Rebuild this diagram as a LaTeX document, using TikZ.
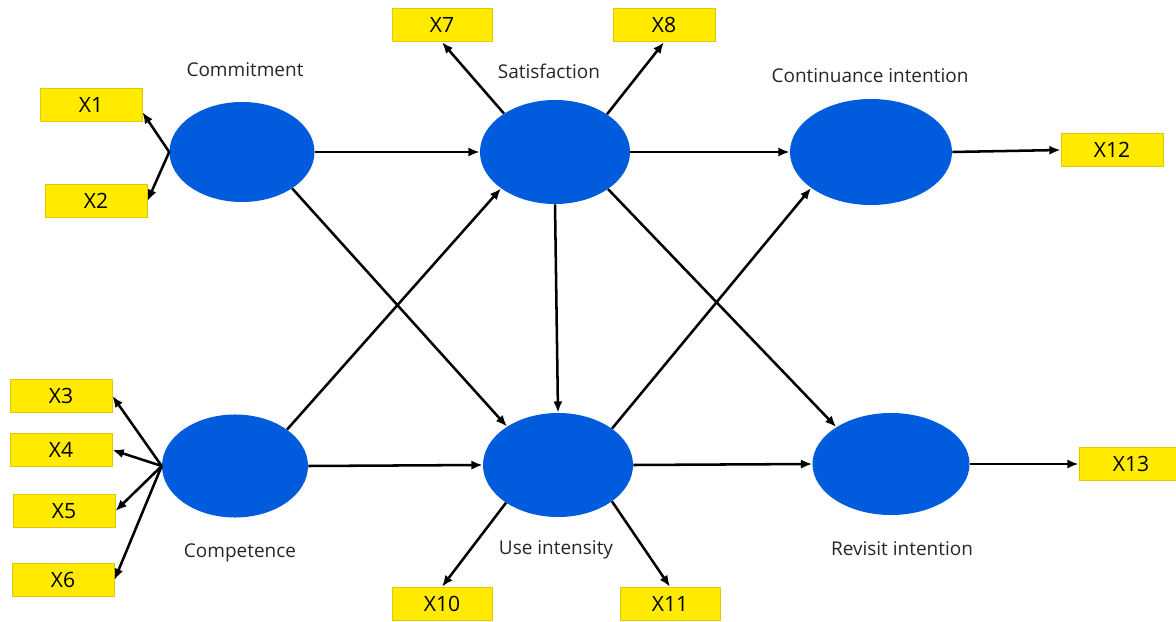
\documentclass[tikz,border=0pt]{standalone}
\usepackage{fontspec}
\setmainfont{Open Sans}
\usetikzlibrary{arrows.meta,shapes.geometric}
\definecolor{lvblue}{RGB}{0,92,220}
\definecolor{ind}{RGB}{255,234,0}
\definecolor{indborder}{RGB}{225,200,0}
\tikzset{
  latent/.style={ellipse, fill=lvblue, draw=none, inner sep=0pt},
  indbox/.style={rectangle, fill=ind, draw=indborder, line width=0.6pt, minimum width=2.55cm, minimum height=0.84cm, inner sep=0pt, font=\fontsize{15}{17}\selectfont},
  lvlabel/.style={font=\fontsize{13.5}{15}\selectfont, text=black!85},
  arr/.style={-{Latex[length=8pt,width=6.5pt]}, line width=1.8pt, black}
}
\begin{document}
\begin{tikzpicture}[x=0.025cm,y=-0.025cm]
\useasboundingbox (0,0) rectangle (1176,622);
% latent variables
\node[latent, minimum width=3.625cm, minimum height=2.5cm] (comm) at (242,152) {};
\node[latent, minimum width=3.75cm, minimum height=2.6cm] (sat) at (555,152) {};
\node[latent, minimum width=4.05cm, minimum height=2.65cm] (cont) at (871,152) {};
\node[latent, minimum width=3.65cm, minimum height=2.575cm] (comp) at (235,466) {};
\node[latent, minimum width=3.75cm, minimum height=2.6cm] (use) at (558,465) {};
\node[latent, minimum width=3.925cm, minimum height=2.55cm] (rev) at (891,464) {};
% labels
\node[lvlabel] (lcomm) at (245,70) {Commitment};
\node[lvlabel] (lsat) at (549,71) {Satisfaction};
\node[lvlabel] (lcont) at (870,76) {Continuance intention};
\node[lvlabel] (lcomp) at (240,553) {Competence};
\node[lvlabel] (luse) at (556,550) {Use intensity};
\node[lvlabel] (lrev) at (902,549) {Revisit intention};
% indicators
\node[indbox] (x1) at (91,105) {X1};
\node[indbox] (x2) at (96,201) {X2};
\node[indbox] (x3) at (61,396) {X3};
\node[indbox] (x4) at (61,450) {X4};
\node[indbox] (x5) at (64,511) {X5};
\node[indbox] (x6) at (63,580) {X6};
\node[indbox, minimum width=2.5cm] (x7) at (442,25) {X7};
\node[indbox] (x8) at (664,25) {X8};
\node[indbox, minimum width=2.5cm] (x10) at (442,604) {X10};
\node[indbox, minimum width=2.5cm] (x11) at (670,604) {X11};
\node[indbox] (x12) at (1112,150) {X12};
\node[indbox, minimum width=2.6cm] (x13) at (1131,464) {X13};
% measurement arrows
\draw[arr] (comm.west) -- (x1.-8);
\draw[arr] (comm.west) -- (x2.east);
\draw[arr] (comp.west) -- (x3.east);
\draw[arr] (comp.west) -- (x4.east);
\draw[arr] (comp.west) -- (x5.east);
\draw[arr] (comp.west) -- (x6.east);
\draw[arr] (sat.143) -- (x7.south);
\draw[arr] (sat.36) -- (x8.south);
\draw[arr] (use.216) -- (x10.north);
\draw[arr] (use.-34) -- (x11.north);
\draw[arr] (cont.east) -- (x12.west);
\draw[arr] (rev.east) -- (x13.west);
% structural arrows
\draw[arr] (comm.east) -- (sat.west);
\draw[arr] (sat.east) -- (cont.west);
\draw[arr] (comp.east) -- (use.west);
\draw[arr] (use.east) -- (rev.west);
\draw[arr] (comm.-36) -- (use.143);
\draw[arr] (comp.35) -- (sat.214);
\draw[arr] (sat.south) -- (use.north);
\draw[arr] (sat.-35) -- (rev.146);
\draw[arr] (use.34) -- (cont.211);
\end{tikzpicture}
\end{document}
